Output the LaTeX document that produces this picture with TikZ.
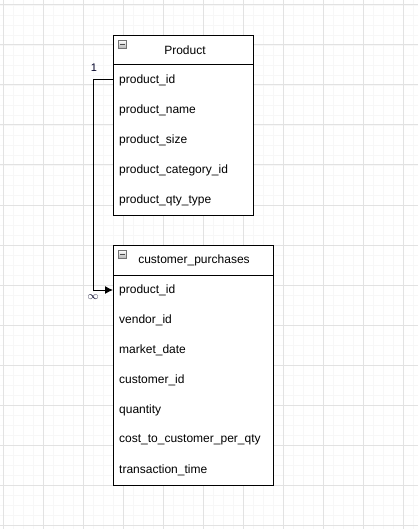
\documentclass[tikz,border=0pt]{standalone}
\usepackage{fontspec}
\setmainfont{Liberation Sans}
\usetikzlibrary{arrows.meta}
\definecolor{minorgrid}{RGB}{247,247,247}
\definecolor{majorgrid}{RGB}{226,226,226}
\tikzset{
  tbl/.style={draw=black, line width=1pt, fill=white, minimum height=#1, inner sep=0pt, anchor=north west},
  rowtxt/.style={inner xsep=6pt, inner ysep=0pt, text width=#1, align=left, minimum height=30pt, anchor=west, font=\fontsize{12}{14}\selectfont},
  hdr/.style={font=\fontsize{12}{14}\selectfont, inner sep=0pt},
  card/.style={font=\fontsize{11}{13}\selectfont, inner sep=0pt, text=black!85!blue},
  icon/.style={draw=black!55, line width=0.8pt, top color=white, bottom color=black!30, minimum size=8pt, inner sep=0pt, anchor=north west},
  conn/.style={draw=black, line width=1pt}
}
\begin{document}
\begin{tikzpicture}[x=1pt,y=-1pt]
\useasboundingbox (0,0) rectangle (418,529);
\fill[white] (0,0) rectangle (418,529);
% grid
\foreach \x in {3,13,...,418} \draw[minorgrid, line width=0.9pt] (\x,0) -- (\x,529);
\foreach \y in {5,15,...,529} \draw[minorgrid, line width=0.9pt] (0,\y) -- (418,\y);
\foreach \x in {3,43,...,418} \draw[majorgrid, line width=1pt] (\x,0) -- (\x,529);
\foreach \y in {5,45,...,529} \draw[majorgrid, line width=1pt] (0,\y) -- (418,\y);

% Product table
\node[tbl=180pt, minimum width=140pt] (prod) at (113,35) {};
\draw[line width=1pt] (113,65) -- (253,65);
\node[hdr] (prodh) at (185,50) {Product};
\node[icon] (prodi) at (118,40) {};
\draw[black!70, line width=1pt] (120,44.5) -- (125,44.5);
\node[rowtxt=128pt] (p1) at (113,80) {product\_id};
\node[rowtxt=128pt] (p2) at (113,110) {product\_name};
\node[rowtxt=128pt] (p3) at (113,140) {product\_size};
\node[rowtxt=128pt] (p4) at (113,170) {product\_category\_id};
\node[rowtxt=128pt] (p5) at (113,200) {product\_qty\_type};

% customer_purchases table
\node[tbl=240pt, minimum width=160pt] (cp) at (113,245) {};
\draw[line width=1pt] (113,275) -- (273,275);
\node[hdr] (cph) at (194,260) {customer\_purchases};
\node[icon] (cpi) at (118,250) {};
\draw[black!70, line width=1pt] (120,254.5) -- (125,254.5);
\node[rowtxt=148pt] (c1) at (113,290) {product\_id};
\node[rowtxt=148pt] (c2) at (113,320) {vendor\_id};
\node[rowtxt=148pt] (c3) at (113,350) {market\_date};
\node[rowtxt=148pt] (c4) at (113,380) {customer\_id};
\node[rowtxt=148pt] (c5) at (113,410) {quantity};
\node[rowtxt=148pt] (c6) at (113,440) {cost\_to\_customer\_per\_qty};
\node[rowtxt=148pt] (c7) at (113,470) {transaction\_time};

% connector
\coordinate (bend) at (93,80);
\draw[conn, -{Latex[length=8pt,width=8pt]}] (p1.west) -- (bend) |- (c1.west);
\node[card] (one) at (94,68) {1};
\node[card] (many) at (93,297) {$\infty$};
\end{tikzpicture}
\end{document}
